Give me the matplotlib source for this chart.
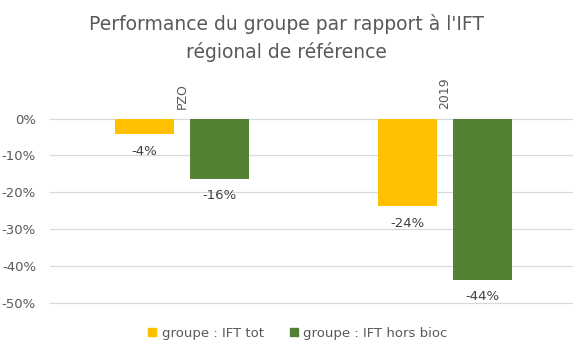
import numpy as np
import matplotlib.pyplot as plt
from matplotlib.patches import Patch

# data (in %)
categories = ['PZO', '2019']
ift_tot = [-4.3, -23.8]
ift_hors_bioc = [-16.3, -43.6]
series_names = ['groupe : IFT tot', 'groupe : IFT hors bioc']
colors = ['#FFC000', '#548235']

txt = '#595959'
plt.rcParams['font.family'] = 'DejaVu Sans'

fig = plt.figure(figsize=(5.73, 3.52), dpi=100)
ax = fig.add_axes([50/573, 1 - 303.3/352, 1 - 50/573, (303.3 - 118.5)/352])

x = np.arange(len(categories))
w = 0.224
off = 0.143
for vals, c, dx in [(ift_tot, colors[0], -off), (ift_hors_bioc, colors[1], off)]:
    bars = ax.bar(x + dx, vals, width=w, color=c, zorder=3)
    for b, v in zip(bars, vals):
        ax.annotate('%d%%' % round(v), xy=(b.get_x() + b.get_width()/2, v),
                    xytext=(0, -12), textcoords='offset points',
                    ha='center', va='center', fontsize=9.5, color='#404040')

# category labels, rotated, above the zero line
for i, cat in enumerate(categories):
    ax.annotate(cat, xy=(i, 1), xycoords=('data', 'axes fraction'),
                xytext=(0, 7), textcoords='offset points', rotation=90,
                ha='center', va='bottom', fontsize=9, color=txt)

ax.set_xlim(-0.501, 1.487)
ax.set_ylim(-50, 0)
ax.set_yticks(np.arange(-50, 1, 10))
ax.set_yticklabels(['%d%%' % t for t in np.arange(-50, 1, 10)])
ax.set_xticks([])
ax.tick_params(axis='y', length=0, labelsize=9.5, labelcolor=txt, pad=10)
ax.grid(axis='y', color='#D9D9D9', linewidth=0.9, zorder=0)
ax.set_axisbelow(True)
for s in ax.spines.values():
    s.set_visible(False)
for gl in ax.get_ygridlines():
    gl.set_clip_on(False)

fig.text(0.5, 1 - 24/352, "Performance du groupe par rapport à l'IFT",
         ha='center', va='center', fontsize=13.5, color=txt)
fig.text(0.5, 1 - 52/352, "régional de référence",
         ha='center', va='center', fontsize=13.5, color=txt)

handles = [Patch(color=c) for c in colors]
fig.legend(handles, series_names, loc='center', bbox_to_anchor=(0.52, 1 - 333/352),
           ncol=2, frameon=False, fontsize=9.5, labelcolor=txt,
           handlelength=0.6, handleheight=0.6, handletextpad=0.4, columnspacing=2.0)

fig.savefig('out.png', dpi=100)
